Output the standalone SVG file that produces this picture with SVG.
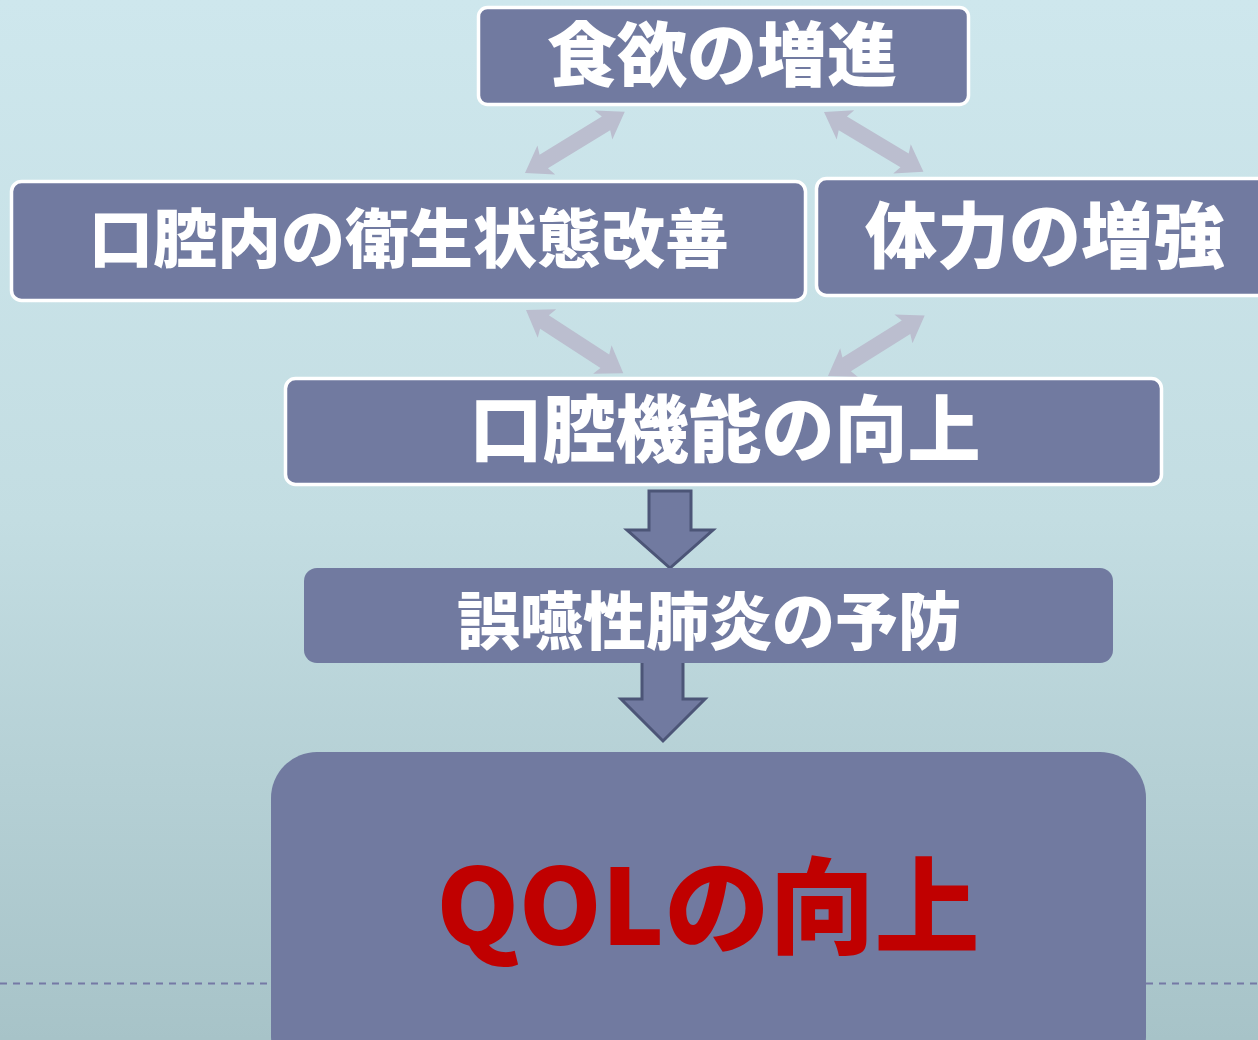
<svg xmlns="http://www.w3.org/2000/svg" width="1258" height="1040" viewBox="0 0 1258 1040">
<defs>
<linearGradient id="bg" x1="0" y1="0" x2="0" y2="1">
<stop offset="0" stop-color="#cee7ed"/>
<stop offset="0.5" stop-color="#c3dde2"/>
<stop offset="1" stop-color="#a7c3c8"/>
</linearGradient>
<style>
.box{fill:#717aa0;stroke:#ffffff;stroke-width:3.5}
.plain{fill:#717aa0}
.t{font-family:"Noto Sans CJK JP","Noto Sans CJK SC",sans-serif;font-weight:900;fill:#ffffff;text-anchor:middle}
.dbl{fill:#bbbecf}
.down{fill:#717aa0;stroke:#4c5577;stroke-width:3;stroke-linejoin:miter}
.dash{stroke:#7579a5;stroke-width:2;stroke-dasharray:7 6;fill:none}
</style>
</defs>
<rect x="0" y="0" width="1258" height="1040" fill="url(#bg)"/>
<line class="dash" x1="0" y1="983.5" x2="272" y2="983.5"/>
<line class="dash" x1="1146" y1="983.5" x2="1258" y2="983.5"/>
<g id="connectors">
<g class="dbl">
<polygon transform="translate(525,173) rotate(-31.5)" points="0,0 25,-17 22,-8 95,-8 92,-17 117,0 92,17 95,8 22,8 25,17"/>
<polygon transform="translate(824,112) rotate(31)" points="0,0 25,-17 22,-8 94,-8 91,-17 116,0 91,17 94,8 22,8 25,17"/>
<polygon transform="translate(526,310) rotate(33)" points="0,0 25,-17 22,-8 94,-8 91,-17 116,0 91,17 94,8 22,8 25,17"/>
<polygon transform="translate(828,376) rotate(-32)" points="0,0 25,-17 22,-8 92,-8 89,-17 114,0 89,17 92,8 22,8 25,17"/>
</g>
<polygon class="down" points="649,491 691,491 691,530 713,530 670,568 627,530 649,530"/>
<polygon class="down" points="642,660 683,660 683,699 705,699 663,741 621,699 642,699"/>
</g>
<g id="node-appetite">
<rect class="box" x="478.5" y="7.5" width="490" height="97" rx="9"/>
<text class="t" x="722" y="81" font-size="70">食欲の増進</text>
</g>
<g id="node-oral-hygiene">
<rect class="box" x="11.5" y="181.5" width="794" height="119" rx="10"/>
<text class="t" x="409" y="262" font-size="64">口腔内の衛生状態改善</text>
</g>
<g id="node-stamina">
<rect class="box" x="816.5" y="178.5" width="460" height="117" rx="10"/>
<text class="t" x="1045" y="262" font-size="72">体力の増強</text>
</g>
<g id="node-oral-function">
<rect class="box" x="285.5" y="378.5" width="876" height="106" rx="10"/>
<text class="t" x="725" y="456" font-size="73">口腔機能の向上</text>
</g>
<g id="node-pneumonia">
<rect class="plain" x="304" y="568" width="809" height="95" rx="13"/>
<text class="t" x="709" y="644" font-size="63">誤嚥性肺炎の予防</text>
</g>
<g id="node-qol">
<rect class="plain" x="271" y="752" width="875" height="330" rx="46"/>
<text class="t" x="708" y="945" font-size="105" style="fill:#c00000">QOLの向上</text>
</g>
</svg>
